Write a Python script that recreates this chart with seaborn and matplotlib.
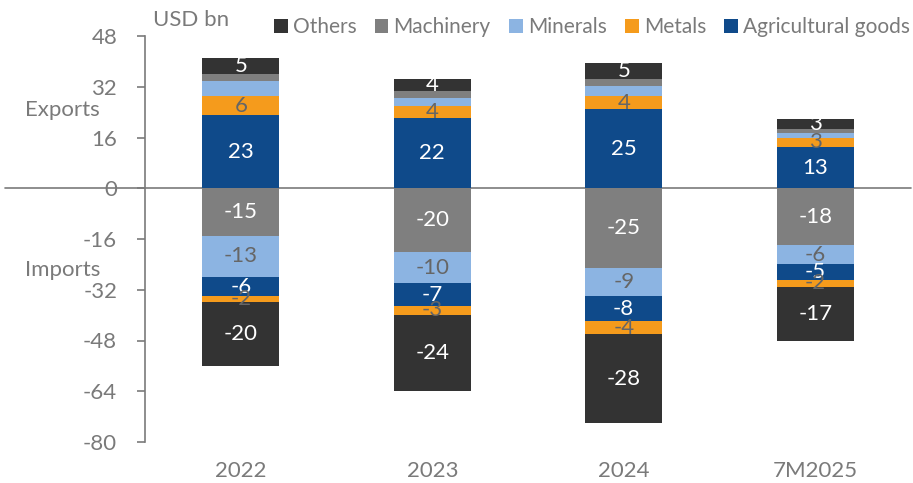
import matplotlib
matplotlib.use("Agg")
import matplotlib.pyplot as plt
from matplotlib.patches import Patch
import numpy as np
import pandas as pd
import seaborn as sns

# Data (USD bn)
years = ["2022", "2023", "2024", "7M2025"]
series = ["Agricultural goods", "Metals", "Minerals", "Machinery", "Others"]

exp_agri = [23, 22, 25, 13]
exp_metals = [6, 4, 4, 3]
exp_minerals = [4.7, 2.3, 3.2, 1.5]
exp_machinery = [2.3, 2.3, 2.2, 1.2]
exp_others = [5, 4, 5, 3]

imp_machinery = [-15, -20, -25, -18]
imp_minerals = [-13, -10, -9, -6]
imp_agri = [-6, -7, -8, -5]
imp_metals = [-2, -3, -4, -2]
imp_others = [-20, -24, -28, -17]

yticks = [48, 32, 16, 0, -16, -32, -48, -64, -80]

colors = {
    "Agricultural goods": "#0F4A8A",
    "Metals": "#F59B1C",
    "Minerals": "#8CB4E2",
    "Machinery": "#7F7F7F",
    "Others": "#333333",
}
label_colors = {
    "Agricultural goods": "white",
    "Metals": "#666666",
    "Minerals": "#666666",
    "Machinery": "white",
    "Others": "white",
}
# which export segments carry a value label
exp_labelled = {"Agricultural goods", "Metals", "Others"}

grey = "#7A7A7A"

sns.set_theme(style="white")
plt.rcParams["font.family"] = ["Lato", "DejaVu Sans"]
FS = 16

fig = plt.figure(figsize=(9.13, 4.83), dpi=100)
ax = fig.add_axes([145 / 913, 1 - 442 / 483, 766 / 913, 406 / 483])

# stacking order away from zero
exp_stack = [("Agricultural goods", exp_agri), ("Metals", exp_metals),
             ("Minerals", exp_minerals), ("Machinery", exp_machinery),
             ("Others", exp_others)]
imp_stack = [("Machinery", imp_machinery), ("Minerals", imp_minerals),
             ("Agricultural goods", imp_agri), ("Metals", imp_metals),
             ("Others", imp_others)]


def draw_side(stack, labelled):
    vals = np.array([v for _, v in stack], dtype=float)
    cum = np.cumsum(vals, axis=0)
    # draw outermost cumulative first so inner segments sit on top
    for i in range(len(stack) - 1, -1, -1):
        name = stack[i][0]
        df = pd.DataFrame({"year": years, "value": cum[i]})
        sns.barplot(data=df, x="year", y="value", order=years,
                    color=colors[name], saturation=1, width=0.4,
                    linewidth=0, errorbar=None, ax=ax, zorder=2)
    for i, (name, v) in enumerate(stack):
        if labelled is not None and name not in labelled:
            continue
        for j in range(len(years)):
            base = cum[i][j] - vals[i][j]
            mid = base + vals[i][j] / 2
            ax.text(j, mid, f"{vals[i][j]:.0f}", ha="center", va="center",
                    fontsize=FS, color=label_colors[name], zorder=5)


draw_side(exp_stack, exp_labelled)
draw_side(imp_stack, None)

ax.set_xlim(-0.5, 3.5)
ax.set_ylim(-80, 48)
ax.set_yticks(yticks)
ax.set_yticklabels([str(t) for t in yticks])
ax.set_xlabel("")
ax.set_ylabel("")

for s in ["top", "right", "bottom"]:
    ax.spines[s].set_visible(False)
ax.spines["left"].set_color(grey)
ax.spines["left"].set_linewidth(1.2)
ax.tick_params(axis="y", which="major", left=True, length=6, width=1.2,
               color=grey, labelcolor=grey, labelsize=FS, pad=14)
ax.tick_params(axis="x", bottom=False, labelcolor=grey, labelsize=FS, pad=8)

# zero line running out past the axis
ax.axhline(0, xmin=(5 - 145) / 766, xmax=1, color=grey, lw=1.2,
           clip_on=False, zorder=1)

fig.text(153 / 913, 1 - 20 / 483, "USD bn", fontsize=FS, color=grey,
         ha="left", va="center")
fig.text(25 / 913, 1 - 110 / 483, "Exports", fontsize=FS, color=grey,
         ha="left", va="center")
fig.text(25 / 913, 1 - 270 / 483, "Imports", fontsize=FS, color=grey,
         ha="left", va="center")

legend_order = ["Others", "Machinery", "Minerals", "Metals", "Agricultural goods"]
handles = [Patch(facecolor=colors[n], edgecolor="none", label=n) for n in legend_order]
leg = fig.legend(handles=handles, loc="center left",
                 bbox_to_anchor=(274 / 913, 1 - 27 / 483), ncol=5,
                 frameon=False, fontsize=15, handlelength=0.65,
                 handleheight=0.65, handletextpad=0.25, columnspacing=0.88,
                 borderpad=0, borderaxespad=0)
for t in leg.get_texts():
    t.set_color(grey)

fig.savefig("out.png", dpi=100)
